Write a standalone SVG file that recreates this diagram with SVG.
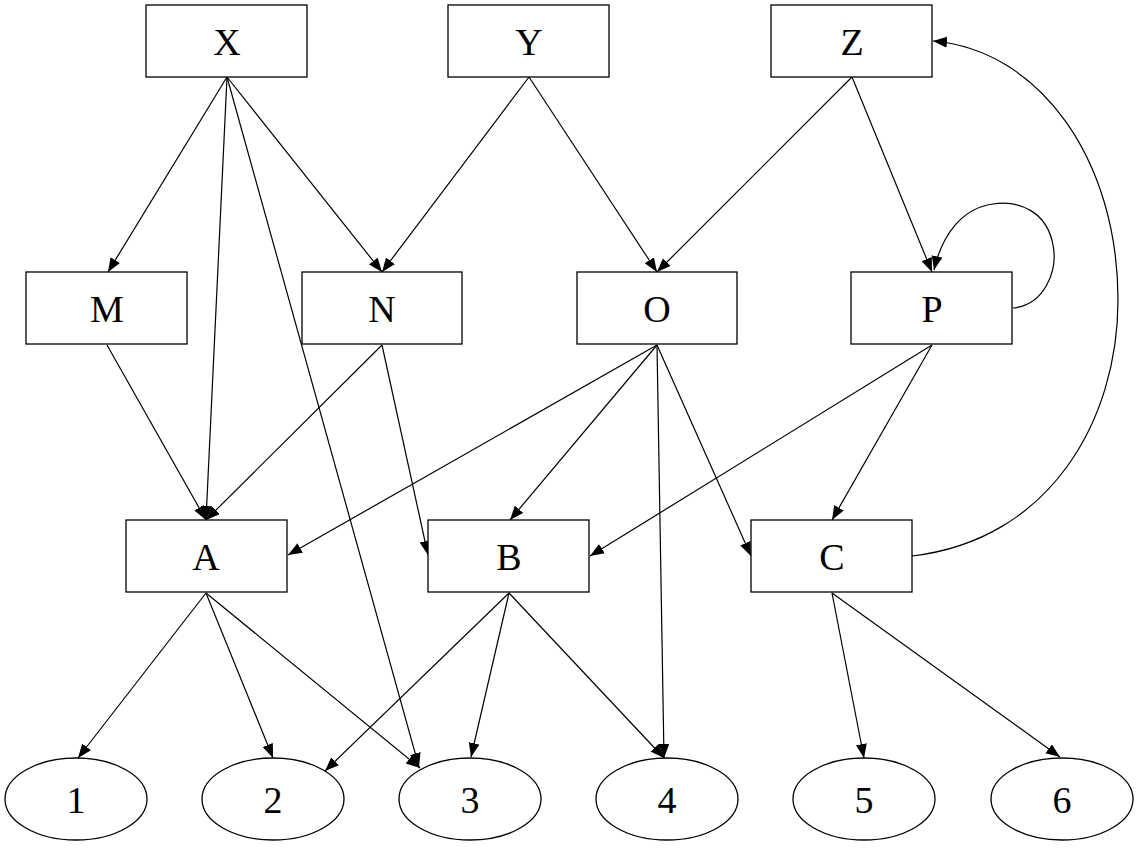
<svg xmlns="http://www.w3.org/2000/svg" width="1137" height="849" viewBox="0 0 1137 849">
<style>
.n rect,.n ellipse{fill:#fff;stroke:#000;stroke-width:1.3}
.n text{font-family:"Liberation Serif","Times New Roman",serif;font-size:38px;text-anchor:middle;fill:#000}
#edges path,#edges line{fill:none;stroke:#000;stroke-width:1.2;marker-end:url(#ah)}
</style>
<defs>
<marker id="ah" markerUnits="userSpaceOnUse" markerWidth="16" markerHeight="12" refX="14" refY="5.5" orient="auto" viewBox="0 0 16 12">
<path d="M0,0 L14,5.5 L0,11 z" fill="#000"/>
</marker>
</defs>
<rect width="1137" height="849" fill="#fff"/>
<g id="edges">
<line x1="227" y1="77" x2="108" y2="272"/>
<line x1="227" y1="77" x2="206" y2="520"/>
<line x1="227" y1="77" x2="419" y2="767"/>
<line x1="227" y1="77" x2="382" y2="272"/>
<line x1="529" y1="77" x2="382" y2="272"/>
<line x1="529" y1="77" x2="657" y2="272"/>
<line x1="852" y1="77" x2="657" y2="272"/>
<line x1="852" y1="77" x2="932" y2="272"/>
<path d="M1013,308 C1045,305 1058,270 1053,245 C1047,212 1020,200 993,204 C962,208 942,235 934,270"/>
<path d="M912,556 C1050,540 1118,420 1118,300 C1118,160 1040,50 933,41"/>
<line x1="107" y1="345" x2="206" y2="520"/>
<line x1="382" y1="345" x2="206" y2="520"/>
<line x1="382" y1="345" x2="428" y2="555"/>
<line x1="657" y1="345" x2="288" y2="555"/>
<line x1="657" y1="345" x2="510" y2="520"/>
<line x1="657" y1="345" x2="664" y2="758"/>
<line x1="657" y1="345" x2="751" y2="556"/>
<line x1="932" y1="345" x2="590" y2="556"/>
<line x1="932" y1="345" x2="832" y2="520"/>
<line x1="206" y1="593" x2="78" y2="758"/>
<line x1="206" y1="593" x2="273" y2="758"/>
<line x1="206" y1="593" x2="420" y2="768"/>
<line x1="509" y1="593" x2="325" y2="771"/>
<line x1="509" y1="593" x2="471" y2="757"/>
<line x1="509" y1="593" x2="664" y2="758"/>
<line x1="832" y1="593" x2="864" y2="758"/>
<line x1="832" y1="593" x2="1060" y2="757"/>
</g>
<g id="X" class="n"><rect x="146" y="5" width="161" height="72"/><text x="227" y="55">X</text></g>
<g id="Y" class="n"><rect x="448" y="5" width="161" height="72"/><text x="529" y="55">Y</text></g>
<g id="Z" class="n"><rect x="771" y="5" width="161" height="72"/><text x="852" y="55">Z</text></g>
<g id="M" class="n"><rect x="26" y="272" width="161" height="72"/><text x="107" y="322">M</text></g>
<g id="N" class="n"><rect x="302" y="272" width="160" height="72"/><text x="382" y="322">N</text></g>
<g id="O" class="n"><rect x="577" y="272" width="160" height="72"/><text x="657" y="322">O</text></g>
<g id="P" class="n"><rect x="851" y="272" width="161" height="72"/><text x="932" y="322">P</text></g>
<g id="A" class="n"><rect x="126" y="520" width="161" height="72"/><text x="206" y="570">A</text></g>
<g id="B" class="n"><rect x="428" y="520" width="161" height="72"/><text x="509" y="570">B</text></g>
<g id="C" class="n"><rect x="751" y="520" width="161" height="72"/><text x="832" y="570">C</text></g>
<g id="n1" class="n"><ellipse cx="76" cy="799" rx="71" ry="41"/><text x="76" y="813">1</text></g>
<g id="n2" class="n"><ellipse cx="273" cy="799" rx="71" ry="41"/><text x="273" y="813">2</text></g>
<g id="n3" class="n"><ellipse cx="470" cy="799" rx="71" ry="41"/><text x="470" y="813">3</text></g>
<g id="n4" class="n"><ellipse cx="667" cy="799" rx="71" ry="41"/><text x="667" y="813">4</text></g>
<g id="n5" class="n"><ellipse cx="864" cy="799" rx="71" ry="41"/><text x="864" y="813">5</text></g>
<g id="n6" class="n"><ellipse cx="1062" cy="799" rx="71" ry="41"/><text x="1062" y="813">6</text></g>
</svg>
